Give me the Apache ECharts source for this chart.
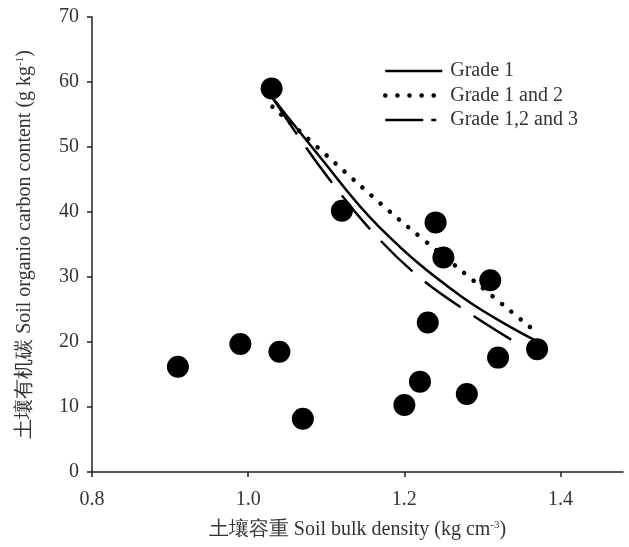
<!DOCTYPE html>
<html>
<head>
<meta charset="utf-8">
<script src="https://cdn.jsdelivr.net/npm/echarts@6/dist/echarts.min.js"></script>
<style>
  html, body { margin: 0; padding: 0; background: #fff; }
  #main { width: 629px; height: 547px; }
</style>
</head>
<body>
<div id="main"></div>
<script>
// measured points
var bulkDensity = [0.91, 0.99, 1.04, 1.07, 1.03, 1.12, 1.24, 1.25, 1.23, 1.22, 1.20, 1.28, 1.31, 1.32, 1.37];
var carbon = [16.2, 19.7, 18.5, 8.2, 59.0, 40.2, 38.4, 33.0, 23.0, 13.9, 10.3, 12.0, 29.5, 17.6, 18.9];

// fitted curves
var grade1X = [1.031, 1.087, 1.167, 1.273, 1.367];
var grade1Y = [57.6, 49.2, 37.8, 27.0, 20.3];
var grade12X = [1.031, 1.106, 1.180, 1.226, 1.286, 1.361];
var grade12Y = [56.2, 48.1, 40.2, 35.6, 29.7, 22.3];
var grade123X = [1.031, 1.069, 1.101, 1.152, 1.214, 1.280, 1.343];
var grade123Y = [57.6, 50.8, 45.5, 37.9, 30.5, 24.7, 19.9];

var seriesNames = ['Grade 1', 'Grade 1 and 2', 'Grade 1,2 and 3'];

function pairs(xs, ys) {
    return xs.map(function (x, i) { return [x, ys[i]]; });
}

var font = 'Liberation Serif';
var txt = '#333';
var nameRich = {
    t: { fontFamily: font, fontSize: 20, color: txt },
    s: { fontFamily: font, fontSize: 11, color: txt, verticalAlign: 'top', padding: [0, 0, 9, 0] }
};

var chart = echarts.init(document.getElementById('main'));

var option = {
    backgroundColor: '#fff',
    animation: false,
    textStyle: { fontFamily: font },
    grid: { left: 92, right: 6, top: 17, bottom: 75 },
    legend: {
        data: [
            { name: seriesNames[0], lineStyle: { width: 2.5 } },
            { name: seriesNames[1], lineStyle: { width: 4.5, type: [0.1, 12], cap: 'round' } },
            { name: seriesNames[2], lineStyle: { width: 2.5, type: [38, 8, 5, 100] } }
        ],
        orient: 'vertical',
        left: 378,
        top: 56,
        itemWidth: 57,
        itemHeight: 14,
        itemGap: 4.5,
        itemStyle: { opacity: 0 },
        textStyle: { fontFamily: font, fontSize: 20, color: txt, padding: [0, 0, 0, 3] }
    },
    xAxis: {
        type: 'value',
        min: 0.8,
        max: 1.48,
        interval: 0.2,
        name: '{t|土壤容重 Soil bulk density (kg cm}{s|-3}{t|)}',
        nameLocation: 'middle',
        nameGap: 48,
        nameTextStyle: { rich: nameRich },
        splitLine: { show: false },
        axisLine: { lineStyle: { color: '#222', width: 1.5 } },
        axisTick: { length: 5, lineStyle: { color: '#222', width: 1.5 } },
        axisLabel: {
            fontFamily: font, fontSize: 20, color: txt, margin: 18,
            showMaxLabel: false,
            formatter: function (v) { return v.toFixed(1); }
        }
    },
    yAxis: {
        type: 'value',
        min: 0,
        max: 70,
        interval: 10,
        name: '{t|土壤有机碳 Soil organio carbon content (g kg}{s|-1}{t|)}',
        nameLocation: 'middle',
        nameGap: 57,
        nameTextStyle: { rich: nameRich },
        splitLine: { show: false },
        axisLine: { show: true, lineStyle: { color: '#222', width: 1.5 } },
        axisTick: { show: true, length: 5, lineStyle: { color: '#222', width: 1.5 } },
        axisLabel: { fontFamily: font, fontSize: 20, color: txt, margin: 13 }
    },
    series: [
        {
            type: 'scatter',
            data: pairs(bulkDensity, carbon),
            symbolSize: 22,
            itemStyle: { color: '#000', opacity: 1 },
            z: 3
        },
        {
            name: seriesNames[0],
            type: 'line',
            data: pairs(grade1X, grade1Y),
            smooth: 0.4,
            symbol: 'none',
            lineStyle: { color: '#000', width: 2.5 },
            itemStyle: { color: '#000' }
        },
        {
            name: seriesNames[1],
            type: 'line',
            data: pairs(grade12X, grade12Y),
            smooth: 0.4,
            symbol: 'none',
            lineStyle: { color: '#000', width: 4.5, type: [0.1, 12], cap: 'round' },
            itemStyle: { color: '#000' }
        },
        {
            name: seriesNames[2],
            type: 'line',
            data: pairs(grade123X, grade123Y),
            smooth: 0.4,
            symbol: 'none',
            lineStyle: { color: '#000', width: 2.5, type: [44, 16] },
            itemStyle: { color: '#000' }
        }
    ]
};

chart.setOption(option);
</script>
</body>
</html>
